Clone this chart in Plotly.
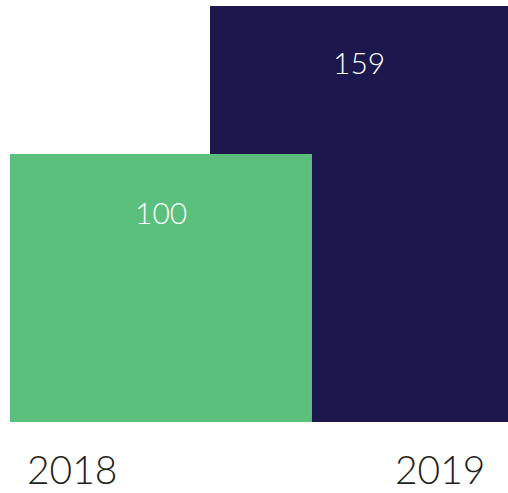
import plotly.graph_objects as go

years = ["2018", "2019"]
values = [100, 159]
colors = ["#5BBF7D", "#1C174D"]

xpos = [0, 1]
bar_widths = [1.525, 1.505]

fig = go.Figure()
# draw 2019 first so 2018 overlaps it
for i in [1, 0]:
    fig.add_trace(go.Bar(
        x=[xpos[i]], y=[values[i]], width=bar_widths[i],
        marker=dict(color=colors[i], line=dict(width=0)),
        hoverinfo="skip", showlegend=False,
    ))

font_family = "Lato"
# value labels inside bars
label_y = [78.4, 134.3]
for i in range(2):
    fig.add_annotation(
        x=xpos[i], y=label_y[i], xref="x", yref="y",
        text=str(values[i]), showarrow=False,
        font=dict(family=font_family, size=30, color="white", weight=300),
        xanchor="center", yanchor="middle",
    )

# year labels below
year_x = [-0.45, 1.41]
for i in range(2):
    fig.add_annotation(
        x=year_x[i], y=-0.113, xref="x", yref="paper",
        text=years[i], showarrow=False,
        font=dict(family=font_family, size=39, color="#231F20", weight=300),
        xanchor="center", yanchor="middle",
    )

fig.update_layout(
    width=508, height=493,
    margin=dict(l=10, r=0, t=6, b=71),
    barmode="overlay",
    paper_bgcolor="white", plot_bgcolor="white",
    xaxis=dict(range=[-0.7625, 1.7525], visible=False, fixedrange=True),
    yaxis=dict(range=[0, 155.2], visible=False, fixedrange=True),
)

fig.write_html(
    "out.html",
    config={"displayModeBar": False},
    post_script="document.body.style.margin='0';document.body.style.overflow='hidden';",
)
